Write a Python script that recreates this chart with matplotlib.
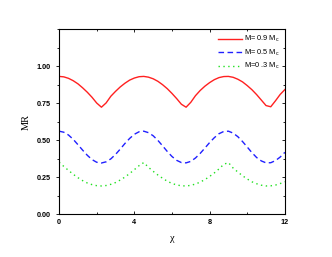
import numpy as np
import matplotlib
matplotlib.use("Agg")
import matplotlib.pyplot as plt
from matplotlib.ticker import MultipleLocator

chi = np.linspace(0, 12, 49)
mr_09 = [0.930, 0.927, 0.917, 0.901, 0.880, 0.853, 0.823, 0.789, 0.750, 0.722,
         0.751, 0.796, 0.829, 0.859, 0.884, 0.905, 0.919, 0.928, 0.930, 0.925,
         0.914, 0.897, 0.874, 0.847, 0.815, 0.780, 0.742, 0.722, 0.755, 0.800,
         0.835, 0.864, 0.888, 0.908, 0.922, 0.929, 0.930, 0.924, 0.911, 0.893,
         0.868, 0.840, 0.807, 0.770, 0.733, 0.725, 0.765, 0.808, 0.841]
mr_05 = [0.560, 0.553, 0.534, 0.505, 0.469, 0.432, 0.397, 0.368, 0.350, 0.345,
         0.353, 0.373, 0.403, 0.439, 0.477, 0.511, 0.539, 0.556, 0.560, 0.550,
         0.529, 0.498, 0.461, 0.423, 0.389, 0.363, 0.348, 0.346, 0.356, 0.379,
         0.410, 0.446, 0.483, 0.516, 0.543, 0.558, 0.560, 0.547, 0.523, 0.490,
         0.453, 0.415, 0.382, 0.359, 0.346, 0.347, 0.361, 0.385, 0.417]
mr_03 = [0.350, 0.322, 0.295, 0.269, 0.246, 0.226, 0.210, 0.199, 0.192, 0.190,
         0.193, 0.201, 0.213, 0.230, 0.250, 0.274, 0.300, 0.327, 0.348, 0.316,
         0.289, 0.264, 0.242, 0.222, 0.207, 0.197, 0.191, 0.190, 0.194, 0.203,
         0.216, 0.233, 0.254, 0.278, 0.305, 0.336, 0.348, 0.311, 0.284, 0.259,
         0.237, 0.218, 0.205, 0.195, 0.190, 0.191, 0.196, 0.206, 0.219]
labels = ["M= 0.9 M$_\\mathregular{c}$", "M= 0.5 M$_\\mathregular{c}$", "M=0 .3 M$_\\mathregular{c}$"]
xticks = [0, 4, 8, 12]
yticks = [0.00, 0.25, 0.50, 0.75, 1.00]

plt.rcParams['font.family'] = ['Liberation Sans', 'DejaVu Sans']
fig = plt.figure(figsize=(3.32, 2.57), dpi=100)
ax = fig.add_axes([0.178, 0.167, 0.680, 0.720])

ax.plot(chi, mr_09, color='#ff2020', lw=1.0, ls='-', label=labels[0])
ax.plot(chi, mr_05, color='#2020ff', lw=1.0, ls=(0, (4, 2.5)), label=labels[1])
ax.plot(chi, mr_03, color='#20e020', lw=1.0, ls=(0, (1, 2.5)), label=labels[2])

ax.set_xlim(0, 12)
ax.set_ylim(0, 1.25)
ax.set_xticks(xticks)
ax.set_yticks(yticks)
ax.set_yticklabels([f"{v:.2f}" for v in yticks])
ax.xaxis.set_minor_locator(MultipleLocator(2))
ax.yaxis.set_minor_locator(MultipleLocator(0.125))
ax.tick_params(which='both', direction='in', top=True, right=True,
               labelsize=5.2, width=0.6)
ax.tick_params(axis='y', which='both', left=True, direction='out')
ax.tick_params(which='major', length=2.5)
ax.tick_params(which='minor', length=1.5)
# right side ticks inward
ax.yaxis.set_tick_params(which='both')
for t in ax.yaxis.get_major_ticks() + ax.yaxis.get_minor_ticks():
    t.tick2line.set_marker(matplotlib.lines.TICKLEFT)
for lab in ax.get_xticklabels() + ax.get_yticklabels():
    lab.set_fontweight('bold')
for s in ax.spines.values():
    s.set_linewidth(0.8)

ax.set_xlabel("χ", family=['Liberation Serif', 'DejaVu Serif'], fontsize=7.5, labelpad=6)
ax.set_ylabel("MR", family=['Liberation Serif', 'DejaVu Serif'], fontsize=7.5, labelpad=4)

leg = ax.legend(loc='upper right', frameon=False, fontsize=5.3, handlelength=3.2,
                handletextpad=0.3, labelspacing=0.45, borderaxespad=0.3)

fig.savefig("out.png", dpi=100)
